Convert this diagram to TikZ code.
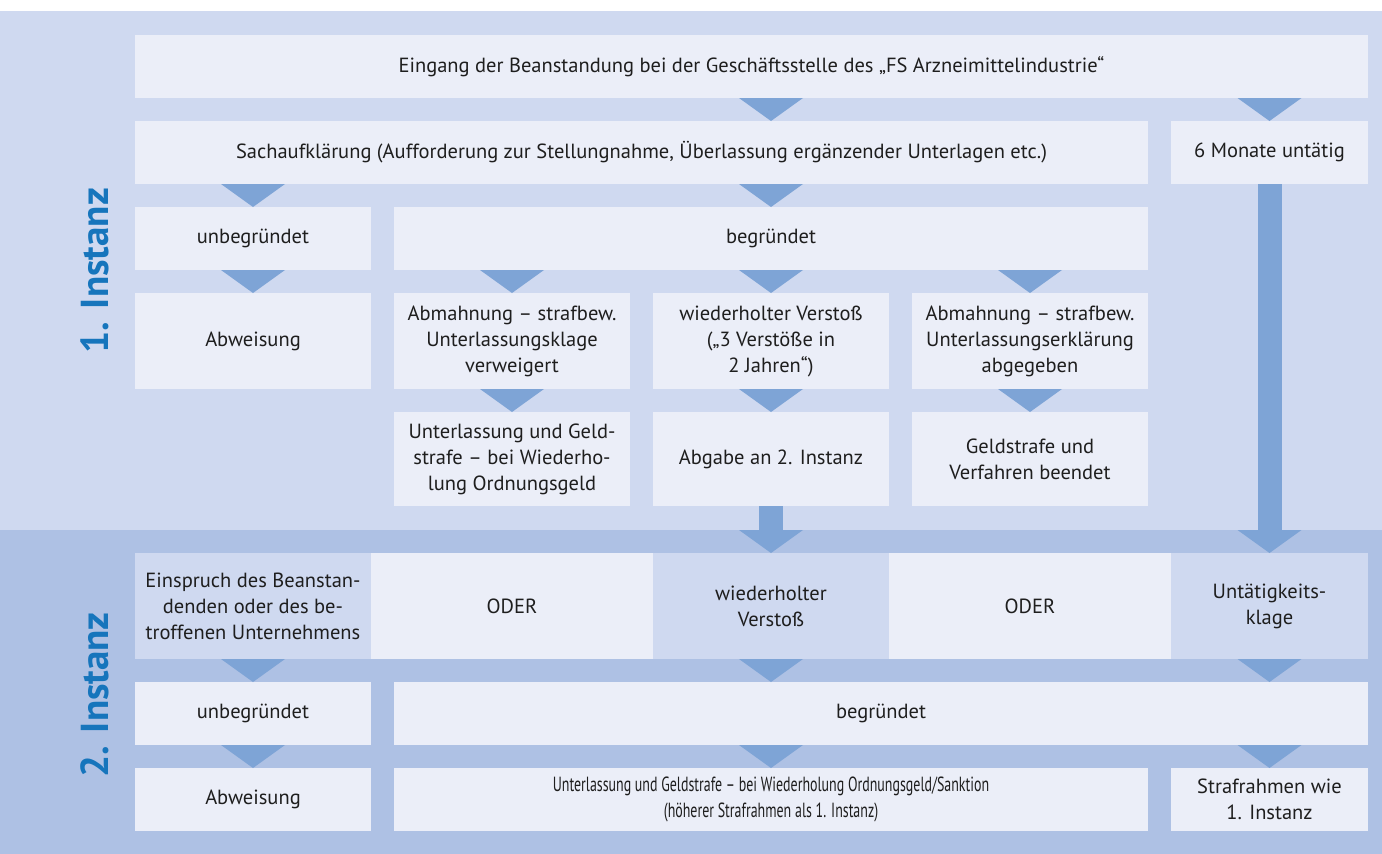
\documentclass[tikz,border=0pt]{standalone}
\usepackage{fontspec}
\setmainfont{PT Sans}
\newfontfamily\narrowfont[FakeStretch=0.68, Ligatures=TeX]{PT Sans}
\usetikzlibrary{arrows.meta}
\definecolor{PanelOne}{HTML}{CFD9F0}
\definecolor{PanelTwo}{HTML}{AEC1E4}
\definecolor{BoxLight}{HTML}{EBEEF8}
\definecolor{ArrowBlue}{HTML}{7EA4D6}
\definecolor{HeadBlue}{HTML}{1675BC}
\definecolor{TextGray}{HTML}{1E1E1E}
\tikzset{
  Box1/.style = {
    fill=BoxLight, text=TextGray, inner sep=0pt, outer sep=0pt,
    minimum width=236pt, minimum height=63pt, align=center,
    font=\fontsize{20.5}{26}\selectfont,
  },
  Box2/.style = {Box1, fill=PanelOne},
  Arrow1/.style = {
    draw=ArrowBlue, line width=0pt,
    -{Triangle[width=64pt, length=23pt, line width=0pt]},
  },
  Arrow2/.style = {Arrow1, line width=24pt},
  Head1/.style = {
    rotate=90, text=HeadBlue, inner sep=0pt,
    font=\fontsize{39}{42}\selectfont\bfseries,
  }
}

\begin{document}
\begin{tikzpicture}[x=1pt, y=-1pt]
  \useasboundingbox (0,0) rectangle (1382,854);
  \fill[PanelOne] (0,11) rectangle (1382,530);
  \fill[PanelTwo] (0,530) rectangle (1382,854);

  \node[Head1] (inst1) at (95,271) {1. Instanz};
  \node[Head1] (inst2) at (95,695) {2. Instanz};

  % 1. Instanz
  \node[Box1, minimum width=1233pt] (eingang) at (751.5,66.5)
    {Eingang der Beanstandung bei der Geschäftsstelle des „FS Arzneimittelindustrie“};
  \node[Box1, minimum width=1013pt] (sach) at (641.5,152.5)
    {Sachaufklärung (Aufforderung zur Stellungnahme, Überlassung ergänzender Unterlagen etc.)};
  \node[Box1, minimum width=197pt] (monate) at (1269.5,152.5) {6 Monate untätig};
  \node[Box1] (unbeg1) at (253,238.5) {unbegründet};
  \node[Box1, minimum width=754pt] (begr1) at (771,238.5) {begründet};
  \node[Box1, minimum height=96pt] (abw1) at (253,341) {Abweisung};
  \node[Box1, minimum height=96pt] (abm1) at (512,341)
    {Abmahnung -- strafbew.\\Unterlassungsklage\\verweigert};
  \node[Box1, minimum height=96pt] (wv1) at (771,341)
    {wiederholter Verstoß\\(„3 Verstöße in\\2 Jahren“)};
  \node[Box1, minimum height=96pt] (abm2) at (1030,341)
    {Abmahnung -- strafbew.\\Unterlassungserklärung\\abgegeben};
  \node[Box1, minimum height=94pt] (unt1) at (512,459)
    {Unterlassung und Geld-\\strafe -- bei Wiederho-\\lung Ordnungsgeld};
  \node[Box1, minimum height=94pt] (abgabe) at (771,459) {Abgabe an 2. Instanz};
  \node[Box1, minimum height=94pt] (geld) at (1030,459)
    {Geldstrafe und\\Verfahren beendet};

  % 2. Instanz
  \node[Box2, minimum height=106pt] (einspr) at (253,606)
    {Einspruch des Beanstan-\\denden oder des be-\\troffenen Unternehmens};
  \node[Box1, minimum width=282pt, minimum height=106pt] (oder1) at (512,606) {ODER};
  \node[Box2, minimum height=106pt] (wv2) at (771,606) {wiederholter\\Verstoß};
  \node[Box1, minimum width=282pt, minimum height=106pt] (oder2) at (1030,606) {ODER};
  \node[Box2, minimum width=197pt, minimum height=106pt] (klage) at (1269.5,606)
    {Untätigkeits-\\klage};
  \node[Box1] (unbeg2) at (253,713.5) {unbegründet};
  \node[Box1, minimum width=974pt] (begr2) at (881,713.5) {begründet};
  \node[Box1] (abw2) at (253,799.5) {Abweisung};
  \node[Box1, minimum width=754pt] (unt2) at (771,799.5)
    {\narrowfont Unterlassung und Geldstrafe – bei Wiederholung Ordnungsgeld/Sanktion\\
     \narrowfont (höherer Strafrahmen als 1. Instanz)};
  \node[Box1, minimum width=197pt] (straf) at (1269.5,799.5)
    {Strafrahmen wie\\1. Instanz};

  % Pfeile
  \draw[Arrow1] (eingang.south -| wv1) -- (sach.north -| wv1);
  \draw[Arrow1] (eingang.south -| monate) -- (monate.north);
  \draw[Arrow1] (sach.south -| unbeg1) -- (unbeg1.north);
  \draw[Arrow1] (sach.south -| begr1) -- (begr1.north);
  \draw[Arrow1] (unbeg1.south) -- (abw1.north);
  \draw[Arrow1] (begr1.south -| abm1) -- (abm1.north);
  \draw[Arrow1] (begr1.south) -- (wv1.north);
  \draw[Arrow1] (begr1.south -| abm2) -- (abm2.north);
  \draw[Arrow1] (abm1.south) -- (unt1.north);
  \draw[Arrow1] (wv1.south) -- (abgabe.north);
  \draw[Arrow1] (abm2.south) -- (geld.north);
  \draw[Arrow2] (abgabe.south) -- (wv2.north);
  \draw[Arrow2] (monate.south) -- (klage.north);
  \draw[Arrow1] (einspr.south) -- (unbeg2.north);
  \draw[Arrow1] (wv2.south) -- (begr2.north -| wv2);
  \draw[Arrow1] (klage.south) -- (begr2.north -| klage);
  \draw[Arrow1] (unbeg2.south) -- (abw2.north);
  \draw[Arrow1] (begr2.south -| unt2) -- (unt2.north);
  \draw[Arrow1] (begr2.south -| straf) -- (straf.north);
\end{tikzpicture}
\end{document}
